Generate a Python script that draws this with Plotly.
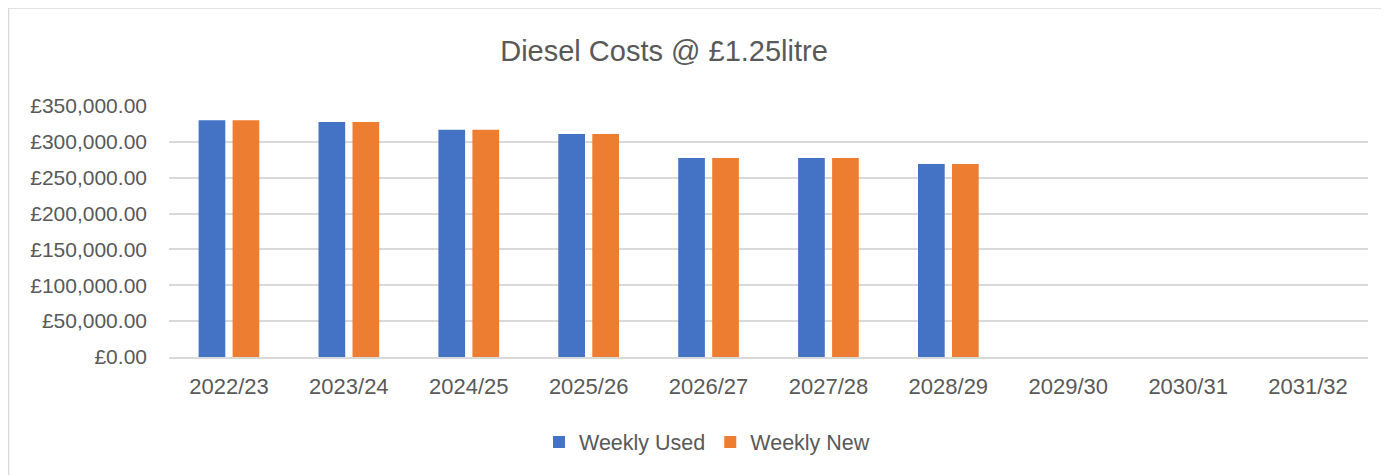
import plotly.graph_objects as go

categories = ["2022/23", "2023/24", "2024/25", "2025/26", "2026/27",
              "2027/28", "2028/29", "2029/30", "2030/31", "2031/32"]
weekly_used = [330000, 327700, 317000, 311000, 277400, 277400, 269000, None, None, None]
weekly_new = [330000, 327700, 317000, 311000, 277400, 277400, 269000, None, None, None]
y_ticks = [0, 50000, 100000, 150000, 200000, 250000, 300000, 350000]
y_tick_text = [f"£{v:,.2f}" for v in y_ticks]

FONT = "Liberation Sans"
TXT = "#595959"
GRID = "#D9D9D9"

# the page body has an 8px margin, so figure coordinates = screen - 8
OFF = 8
W, H = 1389 - OFF, 475 - OFF
L, R, T, B = 169 - OFF, 1389 - 1368, 106 - OFF, 475 - 357
pw, ph = W - L - R, H - T - B


def px(x):
    return (x - OFF - L) / pw


def py(y):
    return (H - B - (y - OFF)) / ph


fig = go.Figure()
fig.add_trace(go.Bar(name="Weekly Used", x=categories, y=weekly_used,
                     marker=dict(color="#4472C4", line=dict(width=0))))
fig.add_trace(go.Bar(name="Weekly New", x=categories, y=weekly_new,
                     marker=dict(color="#ED7D31", line=dict(width=0))))

fig.update_layout(
    width=W, height=H,
    margin=dict(l=L, r=R, t=T, b=B, autoexpand=False),
    paper_bgcolor="white", plot_bgcolor="white",
    barmode="group", bargap=0.433, bargroupgap=0.215,
    font=dict(family=FONT, color=TXT),
    title=dict(text="Diesel Costs @ £1.25litre", x=(664 - OFF) / W, xanchor="center",
               y=1 - (51 - OFF) / H, yanchor="middle",
               font=dict(size=29, color=TXT, family=FONT)),
    showlegend=True,
    legend=dict(orientation="h", x=px(707), xanchor="center", y=py(442), yanchor="middle",
                font=dict(size=21.5, color=TXT, family=FONT), itemwidth=30,
                traceorder="normal", bgcolor="rgba(0,0,0,0)"),
    xaxis=dict(showgrid=False, showline=True, linecolor=GRID, linewidth=1.5,
               ticks="", tickfont=dict(size=22, color=TXT, family=FONT),
               ticklabelstandoff=9, fixedrange=True),
    yaxis=dict(range=[0, 350000], tickvals=y_ticks, ticktext=y_tick_text,
               showgrid=True, gridcolor=GRID, gridwidth=1.5, zeroline=False,
               showline=False, ticks="", tickfont=dict(size=21, color=TXT, family=FONT),
               ticklabelstandoff=21, fixedrange=True),
)

# outer chart border (top and left edges visible)
fig.add_shape(type="line", xref="paper", yref="paper",
              x0=px(8.5), x1=px(1400), y0=py(8), y1=py(8),
              line=dict(color=GRID, width=1.5))
fig.add_shape(type="line", xref="paper", yref="paper",
              x0=px(8.5), x1=px(8.5), y0=py(8), y1=py(480),
              line=dict(color=GRID, width=1.5))

fig.write_html("out.html")
